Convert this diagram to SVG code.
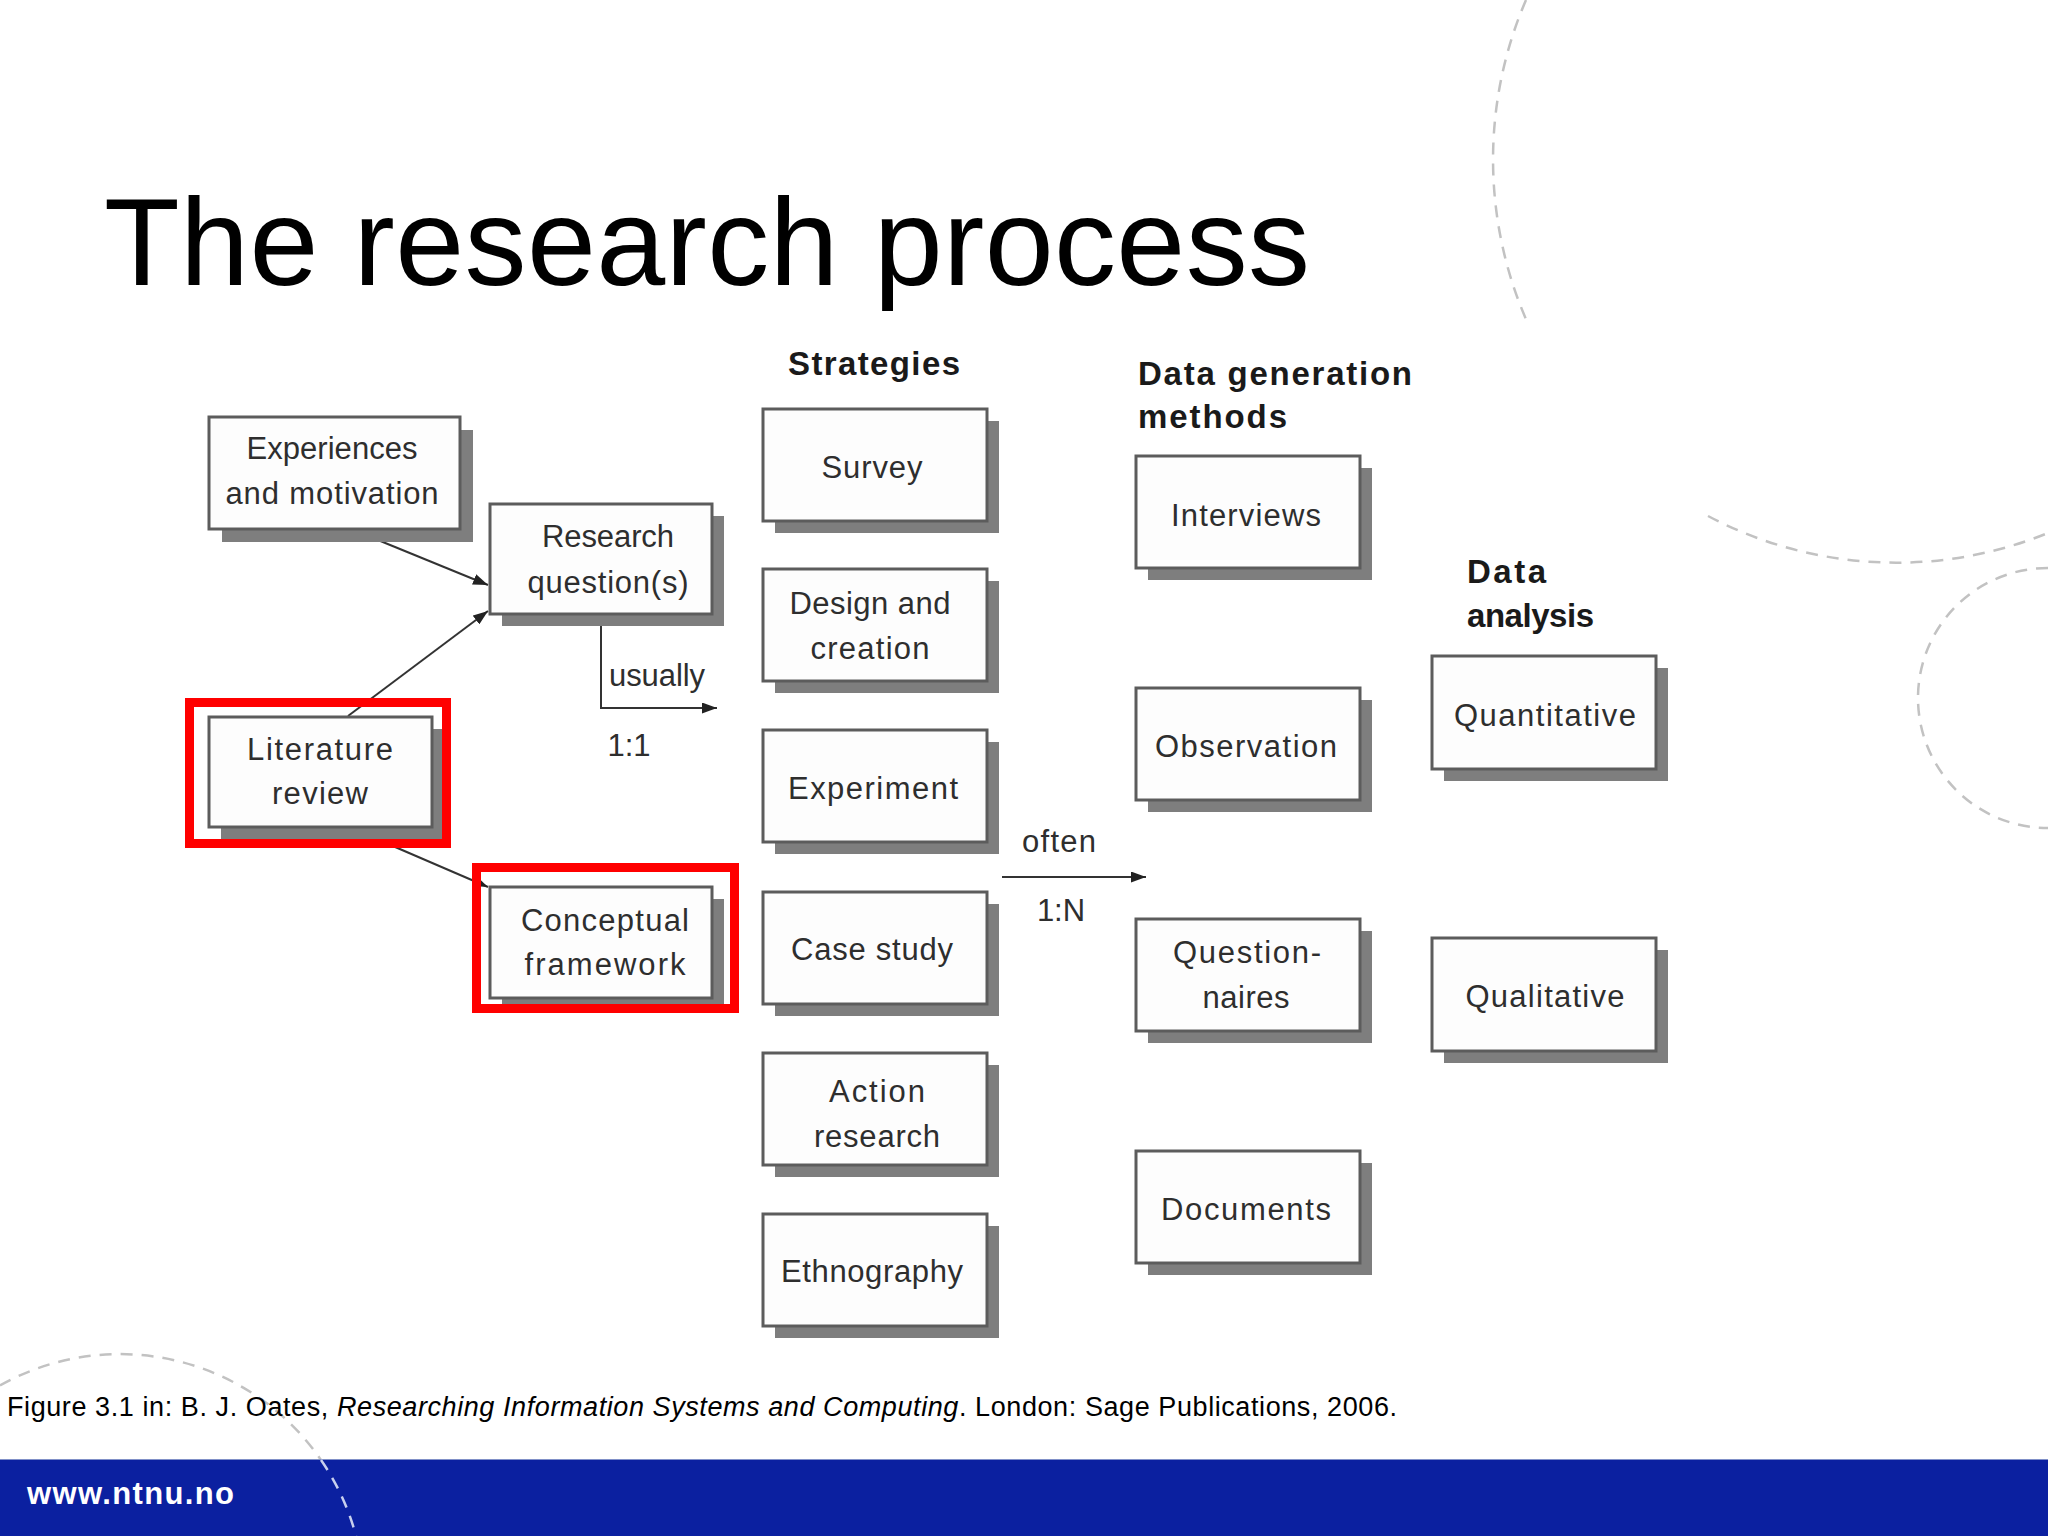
<svg xmlns="http://www.w3.org/2000/svg" width="2048" height="1536" viewBox="0 0 2048 1536">
<style>
.bg{fill:#ffffff}
.shadow{fill:#7e7e7e}
.box{fill:#fdfdfd;stroke:#5c5c5c;stroke-width:3}
.lbl{font-family:"Liberation Sans",Arial,sans-serif;font-size:31px;fill:#2e2e2e;text-anchor:middle}
.hd{font-family:"Liberation Sans",Arial,sans-serif;font-size:33px;font-weight:bold;fill:#1a1a1a}
.conn{fill:none;stroke:#333333;stroke-width:2}
.dash{fill:none;stroke:#c2c2c2;stroke-width:2.5;stroke-dasharray:12 9}
.dashb{fill:none;stroke:#c8d0ee;stroke-width:2.5;stroke-dasharray:12 9}
.hl{fill:none;stroke:#ff0000;stroke-width:9}
</style>
<defs>
<marker id="arr" markerUnits="userSpaceOnUse" markerWidth="15" markerHeight="11" refX="15" refY="5.5" orient="auto">
<path d="M0,0 L15,5.5 L0,11 z" fill="#222222"/>
</marker>
</defs>
<rect class="bg" x="0" y="0" width="2048" height="1536"/>
<g id="decor">
<path class="dash" d="M1526,0 A403,403 0 0 0 1529,326"/>
<path class="dash" d="M1708,516 A403,403 0 0 0 2048,533"/>
<path class="dash" d="M2048,568 A130,130 0 0 0 2048,828"/>
<path class="dash" d="M0,1385.5 A244,244 0 0 1 321,1460"/>
</g>
<g id="title">
<text x="104" y="285" font-family="'Liberation Sans',Arial,sans-serif" font-size="124" fill="#000000" textLength="1206">The research process</text>
</g>
<g id="headings">
<text class="hd" x="788" y="375" textLength="172">Strategies</text>
<text class="hd" x="1138" y="385" textLength="274">Data generation</text>
<text class="hd" x="1138" y="428" textLength="149">methods</text>
<text class="hd" x="1467" y="583" textLength="79">Data</text>
<text class="hd" x="1467" y="627" textLength="127">analysis</text>
</g>
<g id="connectors">
<line class="conn" x1="351" y1="529" x2="488" y2="585" marker-end="url(#arr)"/>
<line class="conn" x1="348" y1="716" x2="488" y2="611" marker-end="url(#arr)"/>
<line class="conn" x1="351" y1="828" x2="488" y2="887" marker-end="url(#arr)"/>
<polyline class="conn" points="601,615 601,708 717,708" marker-end="url(#arr)"/>
<line class="conn" x1="1002" y1="877" x2="1146" y2="877" marker-end="url(#arr)"/>
<text class="lbl" x="657" y="686" textLength="96">usually</text>
<text class="lbl" x="629" y="756">1:1</text>
<text class="lbl" x="1059" y="852" textLength="74">often</text>
<text class="lbl" x="1061" y="921">1:N</text>
</g>
<g id="n-experiences">
<rect class="shadow" x="222" y="430" width="251" height="112"/>
<rect class="box" x="209" y="417" width="251" height="112"/>
<text class="lbl" x="332" y="459" textLength="171">Experiences</text>
<text class="lbl" x="332" y="504" textLength="213">and motivation</text>
</g>
<g id="n-research">
<rect class="shadow" x="502" y="516" width="222" height="110"/>
<rect class="box" x="490" y="504" width="222" height="110"/>
<text class="lbl" x="608" y="547" textLength="132">Research</text>
<text class="lbl" x="608" y="593" textLength="161">question(s)</text>
</g>
<g id="n-literature">
<rect class="shadow" x="221" y="729" width="223" height="110"/>
<rect class="box" x="209" y="717" width="223" height="110"/>
<text class="lbl" x="320" y="760" textLength="146">Literature</text>
<text class="lbl" x="320" y="804" textLength="96">review</text>
</g>
<g id="n-conceptual">
<rect class="shadow" x="502" y="899" width="222" height="111"/>
<rect class="box" x="490" y="887" width="222" height="111"/>
<text class="lbl" x="605" y="931" textLength="168">Conceptual</text>
<text class="lbl" x="605" y="975" textLength="161">framework</text>
</g>
<g id="n-survey">
<rect class="shadow" x="775" y="421" width="224" height="112"/>
<rect class="box" x="763" y="409" width="224" height="112"/>
<text class="lbl" x="872" y="478" textLength="101">Survey</text>
</g>
<g id="n-design">
<rect class="shadow" x="775" y="581" width="224" height="112"/>
<rect class="box" x="763" y="569" width="224" height="112"/>
<text class="lbl" x="870" y="614" textLength="161">Design and</text>
<text class="lbl" x="870" y="659" textLength="119">creation</text>
</g>
<g id="n-experiment">
<rect class="shadow" x="775" y="742" width="224" height="112"/>
<rect class="box" x="763" y="730" width="224" height="112"/>
<text class="lbl" x="873" y="799" textLength="170">Experiment</text>
</g>
<g id="n-casestudy">
<rect class="shadow" x="775" y="904" width="224" height="112"/>
<rect class="box" x="763" y="892" width="224" height="112"/>
<text class="lbl" x="872" y="960" textLength="162">Case study</text>
</g>
<g id="n-action">
<rect class="shadow" x="775" y="1065" width="224" height="112"/>
<rect class="box" x="763" y="1053" width="224" height="112"/>
<text class="lbl" x="877" y="1102" textLength="96">Action</text>
<text class="lbl" x="877" y="1147" textLength="126">research</text>
</g>
<g id="n-ethnography">
<rect class="shadow" x="775" y="1226" width="224" height="112"/>
<rect class="box" x="763" y="1214" width="224" height="112"/>
<text class="lbl" x="872" y="1282" textLength="182">Ethnography</text>
</g>
<g id="n-interviews">
<rect class="shadow" x="1148" y="468" width="224" height="112"/>
<rect class="box" x="1136" y="456" width="224" height="112"/>
<text class="lbl" x="1246" y="526" textLength="150">Interviews</text>
</g>
<g id="n-observation">
<rect class="shadow" x="1148" y="700" width="224" height="112"/>
<rect class="box" x="1136" y="688" width="224" height="112"/>
<text class="lbl" x="1246" y="757" textLength="182">Observation</text>
</g>
<g id="n-questionnaires">
<rect class="shadow" x="1148" y="931" width="224" height="112"/>
<rect class="box" x="1136" y="919" width="224" height="112"/>
<text class="lbl" x="1247" y="963" textLength="148">Question-</text>
<text class="lbl" x="1246" y="1008" textLength="87">naires</text>
</g>
<g id="n-documents">
<rect class="shadow" x="1148" y="1163" width="224" height="112"/>
<rect class="box" x="1136" y="1151" width="224" height="112"/>
<text class="lbl" x="1246" y="1220" textLength="170">Documents</text>
</g>
<g id="n-quantitative">
<rect class="shadow" x="1444" y="668" width="224" height="113"/>
<rect class="box" x="1432" y="656" width="224" height="113"/>
<text class="lbl" x="1545" y="726" textLength="182">Quantitative</text>
</g>
<g id="n-qualitative">
<rect class="shadow" x="1444" y="950" width="224" height="113"/>
<rect class="box" x="1432" y="938" width="224" height="113"/>
<text class="lbl" x="1545" y="1007" textLength="159">Qualitative</text>
</g>
<g id="highlights">
<rect class="hl" x="189.5" y="702.5" width="257" height="141"/>
<rect class="hl" x="476.5" y="867.5" width="258" height="141"/>
</g>
<g id="caption">
<text x="7" y="1416" font-family="'Liberation Sans',Arial,sans-serif" font-size="27" fill="#000000" textLength="1390">Figure 3.1 in: B. J. Oates, <tspan font-style="italic">Researching Information Systems and Computing</tspan>. London: Sage Publications, 2006.</text>
</g>
<g id="footer">
<rect x="0" y="1460" width="2048" height="76" fill="#0b20a0"/>
<line x1="0" y1="1459.5" x2="2048" y2="1459.5" stroke="#8090c8" stroke-width="1"/>
<path class="dashb" d="M321,1460 A244,244 0 0 1 356,1536"/>
<text x="27" y="1504" font-family="'Liberation Sans',Arial,sans-serif" font-size="31" font-weight="bold" fill="#ffffff" textLength="207">www.ntnu.no</text>
</g>
</svg>
